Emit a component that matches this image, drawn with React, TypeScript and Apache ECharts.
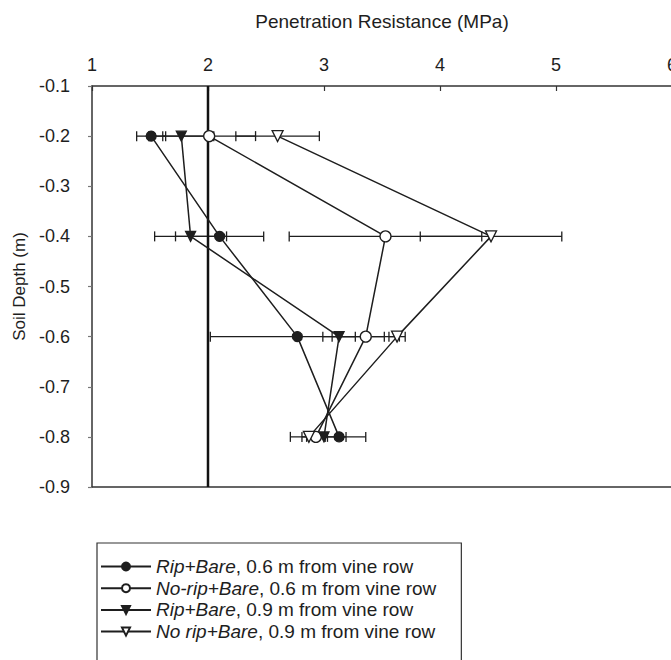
import { useEffect, useRef } from "react";
import * as echarts from "echarts";

// Soil depth (m) at which penetration resistance was measured
const depths = [-0.2, -0.4, -0.6, -0.8];

// Legend labels
const seriesNames = [
  "Rip+Bare, 0.6 m from vine row",
  "No-rip+Bare, 0.6 m from vine row",
  "Rip+Bare, 0.9 m from vine row",
  "No rip+Bare, 0.9 m from vine row",
];

// Mean penetration resistance (MPa) and error half-widths per treatment
const ripBare06 = [1.51, 2.1, 2.77, 3.13];
const ripBare06Err = [0.125, 0.38, 0.75, 0.23];
const noRipBare06 = [2.01, 3.53, 3.36, 2.93];
const noRipBare06Err = [0.4, 0.83, 0.29, 0.08];
const ripBare09 = [1.77, 1.85, 3.13, 3.0];
const ripBare09Err = [0.28, 0.31, 0.14, 0.19];
const noRipBare09 = [2.6, 4.44, 3.63, 2.87];
const noRipBare09Err = [0.36, 0.61, 0.07, 0.16];

// Critical resistance threshold drawn as a vertical line (MPa)
const thresholdValue = 2;

// Axis extents
const xMin = 1;
const xMax = 6;
const yMin = -0.9;
const yMax = -0.1;

const FONT = "'Liberation Sans', Arial, Helvetica, sans-serif";
const INK = "#1e1e1e";

type Marker = { symbol: string; size: number; rotate: number; hollow: boolean };

const markers: Marker[] = [
  { symbol: "circle", size: 10, rotate: 0, hollow: false },
  { symbol: "circle", size: 11, rotate: 0, hollow: true },
  { symbol: "triangle", size: 10, rotate: 180, hollow: false },
  { symbol: "triangle", size: 11, rotate: 180, hollow: true },
];

const means = [ripBare06, noRipBare06, ripBare09, noRipBare09];
const errs = [ripBare06Err, noRipBare06Err, ripBare09Err, noRipBare09Err];

function errorBarSeries(vals: number[], err: number[]) {
  return {
    type: "custom",
    silent: true,
    z: 2,
    xAxisIndex: 0,
    yAxisIndex: 0,
    data: depths.map((d, i) => [d, vals[i] - err[i], vals[i] + err[i]]),
    encode: { x: [1, 2], y: 0 },
    renderItem: (_params: any, api: any) => {
      const y = api.value(0);
      const lo = api.coord([api.value(1), y]);
      const hi = api.coord([api.value(2), y]);
      const h = 5;
      const style = { stroke: INK, lineWidth: 1.3, fill: "none" };
      return {
        type: "group",
        children: [
          { type: "line", shape: { x1: lo[0], y1: lo[1], x2: hi[0], y2: hi[1] }, style },
          { type: "line", shape: { x1: lo[0], y1: lo[1] - h, x2: lo[0], y2: lo[1] + h }, style },
          { type: "line", shape: { x1: hi[0], y1: hi[1] - h, x2: hi[0], y2: hi[1] + h }, style },
        ],
      };
    },
  };
}

function treatmentSeries(idx: number) {
  const m = markers[idx];
  return {
    type: "line",
    name: seriesNames[idx],
    z: 4,
    xAxisIndex: 0,
    yAxisIndex: 0,
    data: depths.map((d, i) => [means[idx][i], d]),
    symbol: m.symbol,
    symbolSize: m.size,
    symbolRotate: m.rotate,
    showAllSymbol: true,
    lineStyle: { color: INK, width: 1.5 },
    itemStyle: {
      color: m.hollow ? "#ffffff" : INK,
      borderColor: INK,
      borderWidth: 1.3,
      opacity: 1,
    },
    emphasis: { disabled: true },
  };
}

// The chart canvas is a little larger than the visible frame; the frame crops it.
const CANVAS_W = 680;
const CANVAS_H = 720;

export default function App() {
  const ref = useRef<HTMLDivElement>(null);

  useEffect(() => {
    if (!ref.current) return;
    const chart = echarts.init(ref.current, undefined, { renderer: "svg" });

    const option: any = {
      animation: false,
      backgroundColor: "#ffffff",
      textStyle: { fontFamily: FONT, color: INK },
      grid: { left: 92, right: CANVAS_W - 673.5, top: 86, bottom: CANVAS_H - 487, containLabel: false },
      xAxis: [
        {
          type: "value",
          position: "top",
          min: xMin,
          max: xMax,
          interval: 1,
          name: "Penetration Resistance (MPa)",
          nameLocation: "middle",
          nameGap: 55,
          nameTextStyle: { fontSize: 19, color: INK, fontFamily: FONT },
          axisLine: { show: true, onZero: false, lineStyle: { color: "#333", width: 1.5 } },
          axisTick: { show: true, inside: true, length: 5, lineStyle: { color: "#333", width: 1.2 } },
          axisLabel: { fontSize: 18, color: INK, margin: 12, fontFamily: FONT },
          splitLine: { show: false },
        },
        {
          type: "value",
          position: "bottom",
          min: xMin,
          max: xMax,
          interval: 1,
          axisLine: { show: true, onZero: false, lineStyle: { color: "#333", width: 1.5 } },
          axisTick: { show: false },
          axisLabel: { show: false },
          splitLine: { show: false },
        },
      ],
      yAxis: {
        type: "value",
        min: yMin,
        max: yMax,
        interval: 0.1,
        name: "Soil Depth (m)",
        nameLocation: "middle",
        nameGap: 58,
        nameTextStyle: { fontSize: 17, color: INK, fontFamily: FONT },
        axisLine: { show: true, onZero: false, lineStyle: { color: "#333", width: 1.5 } },
        axisTick: { show: true, inside: false, length: 4, lineStyle: { color: "#777", width: 1.2 } },
        axisLabel: {
          fontSize: 18,
          color: INK,
          margin: 22,
          fontFamily: FONT,
          formatter: (v: number) => v.toFixed(1),
        },
        splitLine: { show: false },
      },
      legend: {
        data: seriesNames,
        orient: "vertical",
        left: 97,
        top: 543,
        itemWidth: 50,
        itemHeight: 10,
        itemGap: 2.7,
        padding: [14, 25, 30, 3],
        borderColor: "#333",
        borderWidth: 1.2,
        selectedMode: false,
        textStyle: {
          fontSize: 19,
          color: INK,
          fontFamily: FONT,
          rich: {
            i: { fontStyle: "italic", fontSize: 19, color: INK, fontFamily: FONT },
          },
        },
        formatter: (name: string) => {
          const k = name.indexOf(",");
          return `{i|${name.slice(0, k)}}${name.slice(k)}`;
        },
      },
      series: [
        ...means.map((v, i) => errorBarSeries(v, errs[i])),
        {
          type: "line",
          silent: true,
          z: 3,
          xAxisIndex: 0,
          yAxisIndex: 0,
          data: [
            [thresholdValue, yMax],
            [thresholdValue, yMin],
          ],
          symbol: "none",
          lineStyle: { color: "#111", width: 2.5 },
        },
        ...seriesNames.map((_, i) => treatmentSeries(i)),
      ],
    };

    chart.setOption(option);
    return () => chart.dispose();
  }, []);

  return (
    <div
      style={{
        position: "fixed",
        left: 0,
        top: 0,
        width: 671,
        height: 660,
        overflow: "hidden",
        background: "#fff",
      }}
    >
      <div ref={ref} style={{ width: CANVAS_W, height: CANVAS_H }} />
    </div>
  );
}
